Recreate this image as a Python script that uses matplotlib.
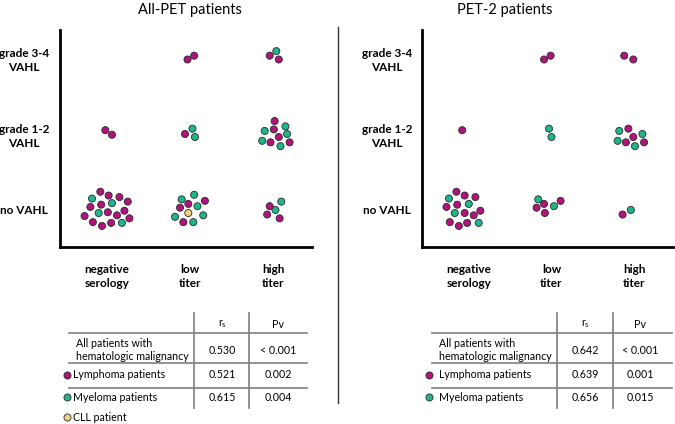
import matplotlib
matplotlib.use("Agg")
import matplotlib.pyplot as plt
from matplotlib.lines import Line2D
import numpy as np

plt.rcParams['font.family'] = ['Lato', 'DejaVu Sans']

# ---------------- data ----------------
x_categories = ["negative\nserology", "low\ntiter", "high\ntiter"]
y_categories = ["no VAHL", "grade 1-2\nVAHL", "grade 3-4\nVAHL"]
panel_titles = ["All-PET patients", "PET-2 patients"]
groups = {"L": "Lymphoma patients", "M": "Myeloma patients", "C": "CLL patient"}
group_colors = {"L": "#B0137C", "M": "#1FB58E", "C": "#F3D27C"}

# Panel 1 (All-PET): each patient -> x category, y category, group, jitter
p1_x = [0]*18 + [1]*11 + [2]*5 + [1]*2 + [2]*3 + [0]*2 + [1]*3 + [2]*10
p1_y = [0]*18 + [0]*11 + [0]*5 + [2]*2 + [2]*3 + [1]*2 + [1]*3 + [1]*10
p1_g = list("MLLLLLLMLMLLLLLLLM") + list("MMLLLMMCMLM") + list("LMMLL") + \
       list("LL") + list("LML") + list("LL") + list("LMM") + list("LMLMLMMLML")
p1_dx = [-0.18, -0.08, 0.02, 0.15, 0.25, -0.20, -0.07, 0.06, -0.27, -0.10, 0.01, 0.12, 0.21, 0.27, -0.17, -0.06, 0.05, 0.18,
         -0.10, 0.05, 0.18, -0.12, -0.02, 0.09, -0.18, -0.02, 0.16, -0.08, 0.04,
         -0.04, 0.10, 0.03, -0.07, 0.08,
         -0.03, 0.05,
         -0.04, 0.04, 0.07,
         -0.02, 0.06,
         -0.06, 0.03, 0.06,
         0.02, -0.10, 0.01, 0.15, 0.07, 0.17, -0.13, -0.03, 0.09, 0.20]
p1_dy = [0.15, 0.24, 0.19, 0.17, 0.11, 0.04, 0.07, 0.09, -0.08, -0.04, -0.03, -0.07, -0.01, -0.11, -0.16, -0.21, -0.17, -0.17,
         0.14, 0.20, 0.12, 0.03, 0.08, 0.05, -0.09, -0.04, -0.07, -0.16, -0.16,
         0.05, 0.11, 0.00, -0.06, -0.11,
         -0.02, 0.03,
         0.03, 0.09, -0.02,
         0.05, -0.01,
         0.00, 0.07, -0.04,
         0.17, 0.04, 0.06, 0.10, -0.04, 0.00, -0.09, -0.11, -0.16, -0.11]

# Panel 2 (PET-2)
p2_x = [0]*15 + [1]*6 + [2]*2 + [1]*2 + [2]*2 + [0]*1 + [1]*2 + [2]*8
p2_y = [0]*15 + [0]*6 + [0]*2 + [2]*2 + [2]*2 + [1]*1 + [1]*2 + [1]*8
p2_g = list("LMLLLLMMLLLLLLM") + list("MLLMLL") + list("LM") + \
       list("LL") + list("LL") + list("L") + list("MM") + list("MLLMMLML")
p2_dx = [-0.15, -0.24, -0.05, 0.08, -0.27, -0.14, 0.00, -0.17, -0.05, 0.06, 0.14, -0.23, -0.12, -0.02, 0.12,
         -0.16, -0.09, -0.18, 0.03, 0.11, -0.08,
         -0.14, -0.04,
         -0.09, -0.01,
         -0.12, -0.01,
         -0.08,
         -0.03, 0.00,
         -0.18, -0.07, -0.01, 0.10, -0.20, -0.10, 0.01, 0.12]
p2_dy = [0.24, 0.15, 0.19, 0.17, 0.04, 0.07, 0.08, -0.04, -0.04, -0.07, -0.01, -0.16, -0.21, -0.17, -0.17,
         0.14, 0.08, 0.03, 0.05, 0.12, -0.04,
         -0.06, 0.00,
         -0.02, 0.03,
         0.03, -0.02,
         0.05,
         0.07, -0.04,
         0.04, 0.07, -0.04, 0.00, -0.09, -0.11, -0.16, -0.11]

# Tables
table_header = ["r$_\\mathregular{s}$", "Pv"]
table_rows = ["All patients with\nhematologic malignancy", "Lymphoma patients", "Myeloma patients"]
table_row_groups = [None, "L", "M"]
t1_rs = ["0.530", "0.521", "0.615"]
t1_pv = ["< 0.001", "0.002", "0.004"]
t2_rs = ["0.642", "0.639", "0.656"]
t2_pv = ["< 0.001", "0.001", "0.015"]
extra_legend = ("C", "CLL patient")

# ---------------- figure ----------------
W, H = 675, 424
fig = plt.figure(figsize=(W/100, H/100), dpi=100)

def fx(px):
    return px / W

def fy(py):
    return 1 - py / H

panels = [
    dict(x=p1_x, y=p1_y, g=p1_g, dx=p1_dx, dy=p1_dy, left=60, right=312, title_x=190, ylab_pad=26),
    dict(x=p2_x, y=p2_y, g=p2_g, dx=p2_dx, dy=p2_dy, left=422, right=673, title_x=505, ylab_pad=25),
]
ax_top, ax_bottom = 30, 247
for i, p in enumerate(panels):
    ax = fig.add_axes([fx(p["left"]), fy(ax_bottom), fx(p["right"]) - fx(p["left"]),
                       fy(ax_top) - fy(ax_bottom)])
    ax.set_xlim(-0.566, 2.47)
    ax.set_ylim(-0.487, 2.368)
    xs = np.array(p["x"]) + np.array(p["dx"])
    ys = np.array(p["y"]) + np.array(p["dy"])
    cols = [group_colors[g] for g in p["g"]]
    ax.scatter(xs, ys, s=26, c=cols, edgecolors="#2a2a2a", linewidths=0.6, zorder=3, clip_on=False)
    for sp in ["top", "right"]:
        ax.spines[sp].set_visible(False)
    for sp in ["left", "bottom"]:
        ax.spines[sp].set_linewidth(2.0)
        ax.spines[sp].set_color("black")
    ax.set_xticks(range(len(x_categories)))
    ax.set_xticklabels(x_categories, fontsize=8.5, fontweight="bold", linespacing=1.35)
    ax.set_yticks(range(len(y_categories)))
    ax.set_yticklabels(y_categories, fontsize=8.5, fontweight="bold", linespacing=1.35, ha="center")
    ax.tick_params(axis="x", length=0, pad=12)
    ax.tick_params(axis="y", length=0, pad=p["ylab_pad"])
    ax.patch.set_alpha(0)
    fig.text(fx(p["title_x"]), fy(10), panel_titles[i], ha="center", va="center", fontsize=10.5)

# divider
fig.add_artist(Line2D([fx(338), fx(338)], [fy(27), fy(403)], color="#333333", lw=1.0))

# table overlay axes in pixel coordinates
tax = fig.add_axes([0, 0, 1, 1])
tax.set_xlim(0, W)
tax.set_ylim(H, 0)
tax.axis("off")
tax.patch.set_alpha(0)

tables = [
    dict(rs=t1_rs, pv=t1_pv, hl=(69, 307), vl=(194, 249), cols=(222, 278), tx=(76, 73), dotx=66.5, extra=True),
    dict(rs=t2_rs, pv=t2_pv, hl=(432, 672), vl=(557, 613), cols=(585, 640), tx=(439, 439), dotx=429.3, extra=False),
]
row_y = [350, 374.7, 397.3]
line_col = "#7f7f7f"
fs = 7.7
for t in tables:
    for yy in [333, 363, 388]:
        tax.plot(t["hl"], [yy, yy], color=line_col, lw=1.2)
    for xx in t["vl"]:
        tax.plot([xx, xx], [313, 408], color=line_col, lw=1.2)
    tax.text(t["cols"][0], 324, table_header[0], ha="center", va="center", fontsize=fs)
    tax.text(t["cols"][1], 324, table_header[1], ha="center", va="center", fontsize=fs)
    for r, (lab, g) in enumerate(zip(table_rows, table_row_groups)):
        x0 = t["tx"][0] if r == 0 else t["tx"][1]
        tax.text(x0, row_y[r], lab, ha="left", va="center", fontsize=fs, linespacing=1.3)
        tax.text(t["cols"][0], row_y[r], t["rs"][r], ha="center", va="center", fontsize=fs)
        tax.text(t["cols"][1], row_y[r], t["pv"][r], ha="center", va="center", fontsize=fs)
        if g is not None:
            tax.scatter([t["dotx"]], [row_y[r]], s=26, c=group_colors[g], edgecolors="#2a2a2a", linewidths=0.6)
    if t["extra"]:
        g, lab = extra_legend
        tax.scatter([t["dotx"]], [417.3], s=26, c=group_colors[g], edgecolors="#2a2a2a", linewidths=0.6)
        tax.text(t["tx"][1], 417.3, lab, ha="left", va="center", fontsize=fs)

fig.savefig("out.png", dpi=100)
